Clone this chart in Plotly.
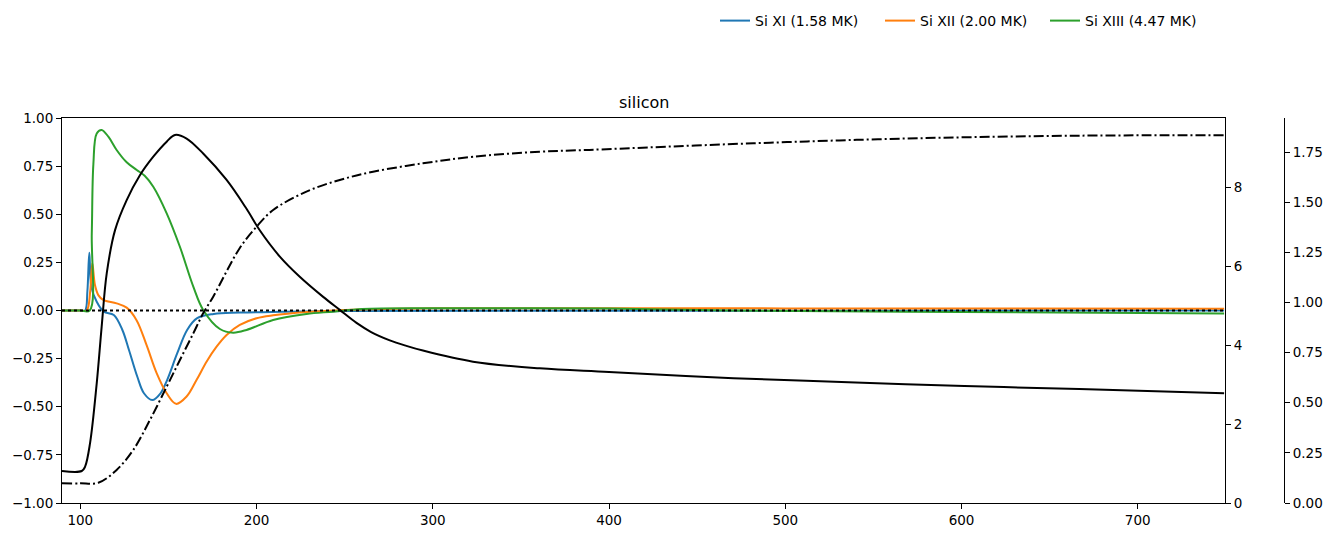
import plotly.graph_objects as go

# ---- data ----
si11_x = [89.6, 100.0, 102.7, 104.0, 105.1, 106.3, 109.3, 113.3, 119.0, 123.8, 127.6, 132.3, 136.1,
          140.8, 145.5, 149.3, 155.0, 160.6, 166.3, 175.7, 190.8, 250.0, 749.0]
si11_y = [0.0, 0.0, 0.0, 0.10, 0.30, 0.12, 0.045, -0.006, -0.023, -0.10, -0.205, -0.343, -0.43,
          -0.465, -0.43, -0.36, -0.222, -0.101, -0.04, -0.018, -0.011, -0.002, 0.0]

si12_x = [89.6, 100.0, 103.6, 105.6, 106.8, 108.3, 110.2, 113.0, 120.6, 126.3, 131.9, 137.6, 143.3,
          149.0, 154.3, 160.3, 166.0, 171.7, 177.3, 183.0, 190.5, 200.0, 209.4, 228.3, 250.0,
          300.0, 500.0, 749.0]
si12_y = [0.0, 0.0, 0.0, 0.10, 0.245, 0.132, 0.08, 0.055, 0.037, 0.015, -0.05, -0.18, -0.325,
          -0.43, -0.485, -0.447, -0.36, -0.265, -0.188, -0.127, -0.075, -0.04, -0.025, -0.008, 0.003,
          0.012, 0.011, 0.009]

si13_x = [89.6, 100.0, 105.3, 106.5, 107.4, 109.3, 112.1, 115.9, 120.6, 126.3, 132.0, 136.5,
          141.4, 149.0, 156.5, 164.1, 169.7, 179.2, 186.7, 194.3, 209.4, 228.3, 243.4,
          260.0, 300.0, 400.0, 470.0, 600.0, 749.0]
si13_y = [0.0, 0.0, 0.0, 0.40, 0.76, 0.92, 0.938, 0.903, 0.834, 0.77, 0.73, 0.70,
          0.643, 0.505, 0.331, 0.124, 0.003, -0.096, -0.115, -0.101, -0.049, -0.018, -0.006,
          0.008, 0.012, 0.01, 0.0, -0.008, -0.015]

temp_x = [89.6, 100.8, 102.7, 105.5, 109.3, 112.1, 115.0, 119.7, 126.3, 133.8, 141.4, 149.0,
          153.7, 160.3, 169.7, 183.0, 194.3, 201.9, 213.2, 224.5, 237.8, 247.2, 256.7, 265.0,
          275.6, 285.0, 294.4, 322.8, 360.6, 400.0, 470.6, 535.8, 601.6, 666.8, 749.0]
temp_y = [0.81, 0.81, 0.92, 1.51, 3.03, 4.46, 5.82, 6.91, 7.67, 8.3, 8.77, 9.15,
          9.32, 9.23, 8.85, 8.18, 7.45, 6.90, 6.24, 5.73, 5.22, 4.89, 4.56, 4.33,
          4.12, 3.98, 3.86, 3.58, 3.41, 3.32, 3.16, 3.06, 2.96, 2.89, 2.78]

dens_x = [89.6, 100.0, 110.2, 120.6, 130.0, 139.5, 149.0, 156.5, 164.1, 169.7, 175.4, 190.5,
          200.0, 209.4, 228.3, 247.2, 266.1, 294.4, 322.8, 360.6, 388.9, 481.9, 574.9,
          667.9, 749.0]
dens_y = [0.098, 0.098, 0.101, 0.165, 0.264, 0.414, 0.580, 0.713, 0.846, 0.946, 1.029, 1.272,
          1.378, 1.461, 1.553, 1.611, 1.652, 1.694, 1.727, 1.752, 1.761, 1.794, 1.819,
          1.832, 1.834]

zero_x = [89.6, 749.5]
zero_y = [0.0, 0.0]

names = ["Si XI (1.58 MK)", "Si XII (2.00 MK)", "Si XIII (4.47 MK)"]
colors = ["#1f77b4", "#ff7f0e", "#2ca02c"]

x_ticks = [100, 200, 300, 400, 500, 600, 700]
y1_ticks = [-1.0, -0.75, -0.5, -0.25, 0.0, 0.25, 0.5, 0.75, 1.0]
y2_ticks = [0, 2, 4, 6, 8]
y3_ticks = [0.0, 0.25, 0.5, 0.75, 1.0, 1.25, 1.5, 1.75]

FONT = "DejaVu Sans"
SM = 1.0
fig = go.Figure()

for xs, ys, nm, c in zip([si11_x, si12_x, si13_x], [si11_y, si12_y, si13_y], names, colors):
    fig.add_trace(go.Scatter(x=xs, y=ys, name=nm, mode="lines",
                             line=dict(color=c, width=2, shape="spline", smoothing=SM),
                             yaxis="y"))

fig.add_trace(go.Scatter(x=zero_x, y=zero_y, mode="lines", showlegend=False,
                         line=dict(color="black", width=2, dash="dot"), yaxis="y"))

fig.add_trace(go.Scatter(x=temp_x, y=temp_y, mode="lines", showlegend=False,
                         line=dict(color="black", width=2, shape="spline", smoothing=SM),
                         yaxis="y2"))

fig.add_trace(go.Scatter(x=dens_x, y=dens_y, mode="lines", showlegend=False,
                         line=dict(color="black", width=2, shape="spline", smoothing=SM,
                                   dash="10px,3px,2px,3px"),
                         yaxis="y3"))

W, H = 1333, 537
ml, mr, mt, mb = 62, 33, 118, 34
plot_w = W - ml - mr
x_dom_right = (1225 - ml) / plot_w
y3_pos = (1284 - ml) / plot_w

axis_common = dict(showline=True, linecolor="black", linewidth=1, ticks="outside",
                   ticklen=5, tickwidth=1, tickcolor="black", showgrid=False, zeroline=False,
                   automargin=False,
                   tickfont=dict(family=FONT, size=13.5, color="black"))

fig.update_layout(
    width=W, height=H,
    margin=dict(l=ml, r=mr, t=mt, b=mb, autoexpand=False),
    plot_bgcolor="white", paper_bgcolor="white",
    font=dict(family=FONT, size=13.5, color="black"),
    xaxis=dict(domain=[0, x_dom_right], range=[89.6, 749.5], tickvals=x_ticks,
               mirror=True, **axis_common),
    yaxis=dict(range=[-1, 1], tickvals=y1_ticks, tickformat=".2f", anchor="x", **axis_common),
    yaxis2=dict(range=[0, 9.75], tickvals=y2_ticks, overlaying="y", side="right", anchor="x",
                **axis_common),
    yaxis3=dict(range=[0, 1.92], tickvals=y3_ticks, tickformat=".2f", overlaying="y",
                side="right", anchor="free", position=y3_pos, **axis_common),
    legend=dict(orientation="h", x=(715 - ml) / plot_w, y=1 + (118 - 21) / 385,
                xanchor="left", yanchor="middle", font=dict(family=FONT, size=14),
                bgcolor="rgba(0,0,0,0)", itemwidth=30, entrywidth=120),
    annotations=[dict(text="silicon", x=x_dom_right / 2, y=1, xref="paper", yref="paper",
                      xanchor="center", yanchor="bottom", yshift=4, showarrow=False,
                      font=dict(family=FONT, size=16, color="black"))],
)

fig.write_html("out.html")
